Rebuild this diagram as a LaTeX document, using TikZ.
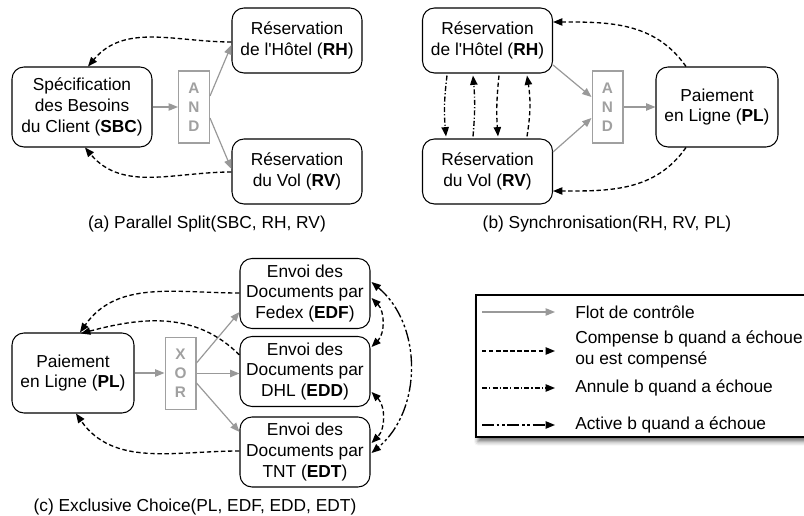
\documentclass[tikz,border=0pt]{standalone}
\usepackage{fontspec}
\setmainfont{Liberation Sans}
\usetikzlibrary{arrows.meta,calc,shadows.blur}
\definecolor{flowcol}{HTML}{999999}
\definecolor{gatecol}{HTML}{A0A0A0}
\newcommand{\apos}{\textquotesingle}
\tikzset{
  task/.style={draw, line width=0.8pt, rounded corners=9pt, align=center, inner sep=0pt,
    minimum width=97.5pt, minimum height=48.75pt},
  bigtask/.style={task, minimum width=105pt, minimum height=60pt},
  paytask/.style={task, minimum width=91.5pt, minimum height=60pt},
  sendtask/.style={task, minimum height=52.5pt},
  gate/.style={draw=gatecol, line width=1pt, minimum width=23pt, minimum height=54pt,
    inner sep=0pt, align=center, text=gatecol, font=\fontsize{11.5}{14.25}\selectfont\bfseries},
  tip/.style={-{Triangle[length=7pt,width=5.5pt]}},
  dtip/.style={{Triangle[length=7pt,width=5.5pt]}-{Triangle[length=7pt,width=5.5pt]}},
  flow/.style={draw=flowcol, line width=0.9pt, tip},
  comp/.style={draw=black, line width=1pt, dash pattern=on 3.3pt off 2pt, tip},
  annul/.style={draw=black, line width=1pt, dash pattern=on 3.8pt off 1.6pt on 0.9pt off 1.6pt, tip},
  activ/.style={draw=black, line width=1pt, dash pattern=on 9pt off 2pt on 2pt off 2pt on 2pt off 2pt, tip},
  legendbox/.style={draw, line width=0.9pt, fill=white, minimum width=254.25pt, minimum height=106.5pt,
    inner sep=0pt, blur shadow={shadow xshift=1.5pt, shadow yshift=-3.5pt, shadow blur radius=3pt, shadow opacity=55}},
  legtext/.style={anchor=west, align=left, inner sep=0pt},
}
\begin{document}
\begin{tikzpicture}[x=0.75pt, y=0.75pt, font=\fontsize{13}{15.7}\selectfont]
\useasboundingbox (0,0) rectangle (804,-516);

% ---------- (a) Parallel split ----------
\node[bigtask] (SBC) at (82,-107) {Spécification\\des Besoins\\du Client (\textbf{SBC})};
\node[gate] (AND) at (194,-107) {A\\N\\D};
\node[task] (RH) at (297,-40.5) {Réservation\\de l\apos Hôtel (\textbf{RH})};
\node[task] (RV) at (297,-171.5) {Réservation\\du Vol (\textbf{RV})};
\node (capa) at (207,-224) {(a) Parallel Split(SBC, RH, RV)};

\draw[flow] (SBC.east) -- (AND.west);
\draw[flow] ($(AND.east)+(0,11)$) -- ($(RH.west)+(0,-4.5)$);
\draw[flow] ($(AND.east)+(0,-11)$) -- ($(RV.west)+(0,2.5)$);
\draw[comp] ($(RH.west)+(0,-1.5)$) to[out=180,in=50] ($(SBC.north)+(6,0)$);
\draw[comp] ($(RV.west)+(0,-0.5)$) to[out=180,in=-50] ($(SBC.south)+(3,0)$);

% ---------- (b) Synchronisation ----------
\node[task] (RH2) at (487.5,-40.5) {Réservation\\de l\apos Hôtel (\textbf{RH})};
\node[task] (RV2) at (487.5,-171.5) {Réservation\\du Vol (\textbf{RV})};
\node[gate] (AND2) at (607.5,-107) {A\\N\\D};
\node[paytask] (PL2) at (717,-107) {Paiement\\en Ligne (\textbf{PL})};
\node (capb) at (607,-224) {(b) Synchronisation(RH, RV, PL)};

\draw[flow] ($(RH2.east)+(0,-24.5)$) -- ($(AND2.west)+(0,10)$);
\draw[flow] ($(RV2.east)+(0,19.5)$) -- ($(AND2.west)+(0,-11)$);
\draw[flow] (AND2.east) -- (PL2.west);
\draw[comp] ($(PL2.north)+(-31,0)$) to[out=125,in=0] ($(RH2.east)+(0,18.5)$);
\draw[comp] ($(PL2.south)+(-31,0)$) to[out=-125,in=0] ($(RV2.east)+(0,-19.5)$);
\draw[annul] ($(RH2.south)+(-40.5,-2)$) to[bend right=6] ($(RV2.north)+(-41.5,2)$);
\draw[annul] ($(RV2.north)+(-14.5,2)$) to[bend right=5] ($(RH2.south)+(-14.5,-2)$);
\draw[comp] ($(RH2.south)+(11.5,-2)$) to[bend right=5] ($(RV2.north)+(10.5,2)$);
\draw[comp] ($(RV2.north)+(39.5,2)$) to[bend right=9] ($(RH2.south)+(39.5,-2)$);

% ---------- (c) Exclusive choice ----------
\node[paytask] (PL3) at (73,-373) {Paiement\\en Ligne (\textbf{PL})};
\node[gate] (XOR) at (180.5,-373.5) {X\\O\\R};
\node[sendtask] (EDF) at (305,-293.5) {Envoi des\\Documents par\\Fedex (\textbf{EDF})};
\node[sendtask] (EDD) at (305,-371.5) {Envoi des\\Documents par\\DHL (\textbf{EDD})};
\node[sendtask] (EDT) at (305,-452) {Envoi des\\Documents par\\TNT (\textbf{EDT})};
\node (capc) at (195,-507) {(c) Exclusive Choice(PL, EDF, EDD, EDT)};

\draw[flow] (PL3.east) -- (PL3.east -| XOR.west);
\draw[flow] ($(XOR.east)+(0,10.5)$) -- ($(EDF.west)+(0,-18.5)$);
\draw[flow] (XOR.east) -- (XOR.east -| EDD.west);
\draw[flow] ($(XOR.east)+(0,-9.5)$) -- ($(EDT.west)+(0,20)$);
\draw[comp] ($(EDF.west)+(0,0.5)$) to[out=180,in=55] ($(PL3.north)+(7,0)$);
\draw[comp] ($(EDD.west)+(0,16.5)$) to[out=135,in=15] ($(PL3.north)+(8,-1)$);
\draw[comp] ($(EDT.west)+(0,1)$) to[out=180,in=-55] ($(PL3.south)+(3,0)$);
\draw[activ, dtip] ($(EDF.east)+(1,11.5)$) to[out=-40,in=40] ($(EDT.east)+(1,-1)$);
\draw[comp, dtip] ($(EDF.east)+(1,-4.5)$) to[out=-45,in=45] ($(EDD.east)+(1,24.5)$);
\draw[comp, dtip] ($(EDD.east)+(1,-20.5)$) to[out=-45,in=45] ($(EDT.east)+(1,9)$);

% ---------- Legend ----------
\node[legendbox] (legend) at (645.5,-366) {};
\coordinate (l1a) at (482,-312); \coordinate (l1b) at (555,-312);
\coordinate (l2a) at (482,-351); \coordinate (l2b) at (555,-351);
\coordinate (l3a) at (482,-388); \coordinate (l3b) at (555,-388);
\coordinate (l4a) at (482,-425); \coordinate (l4b) at (555,-425);
\draw[flow] (l1a) -- (l1b);
\draw[comp] (l2a) -- (l2b);
\draw[annul] (l3a) -- (l3b);
\draw[activ] (l4a) -- (l4b);
\node[legtext] (t1) at (575,-312) {Flot de contrôle};
\node[legtext] (t2) at (575,-349) {Compense b quand a échoue\\ou est compensé};
\node[legtext] (t3) at (575,-388) {Annule b quand a échoue};
\node[legtext] (t4) at (575,-425) {Active b quand a échoue};
\end{tikzpicture}
\end{document}
